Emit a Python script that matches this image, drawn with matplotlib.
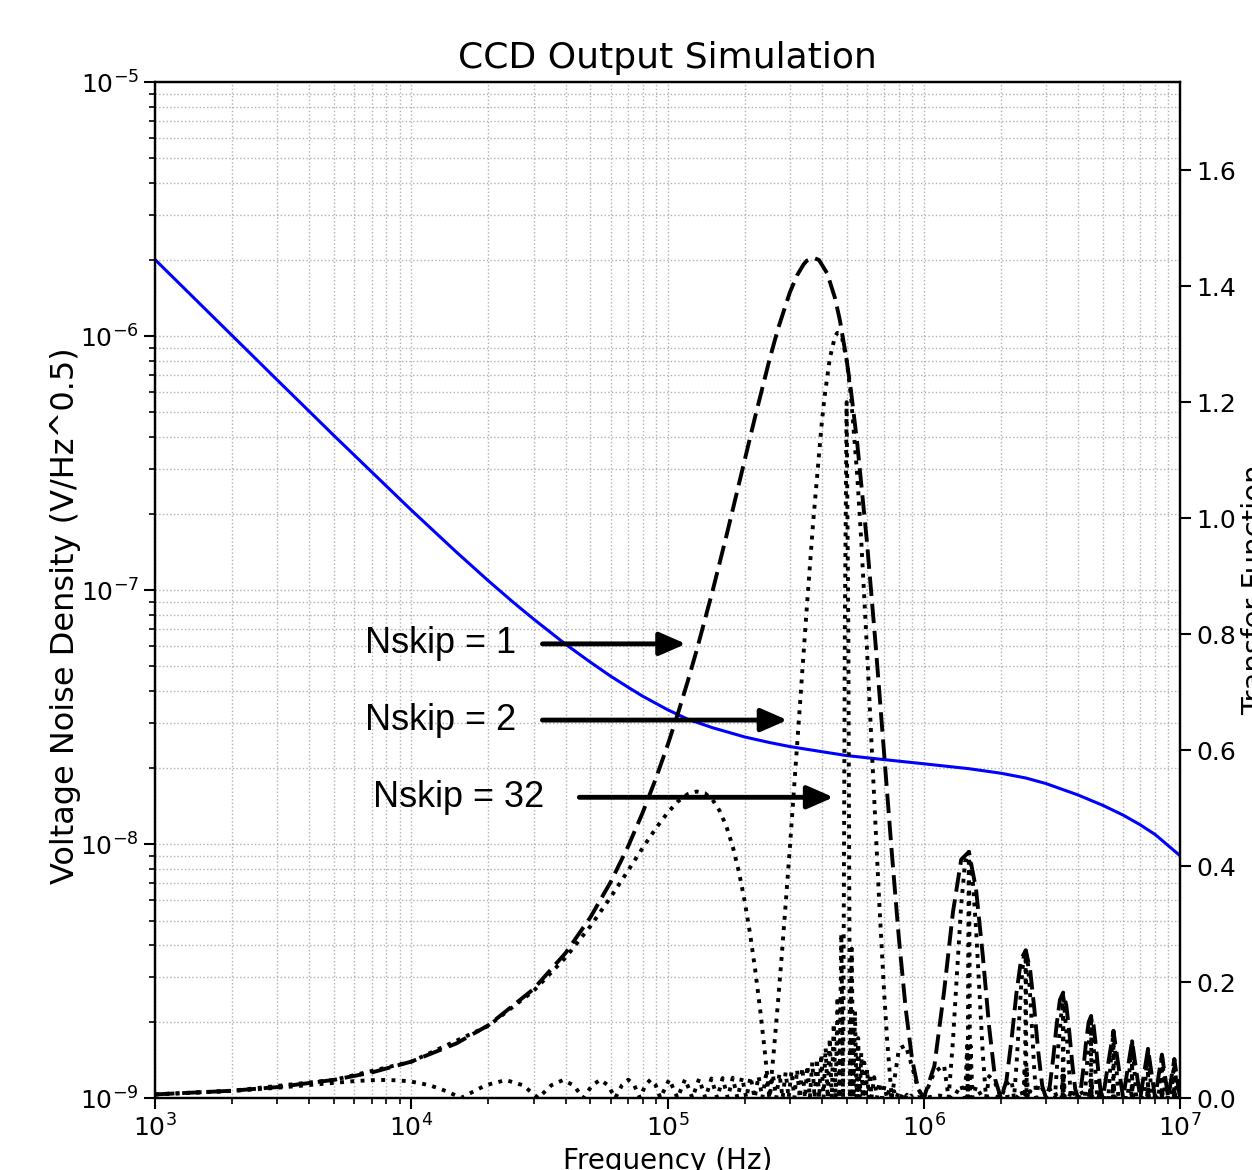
import matplotlib
matplotlib.use("Agg")
import matplotlib.pyplot as plt

# voltage noise density of the output amplifier (blue, left axis)
noise_freq = [1e3, 2e3, 3e3, 5e3, 7e3, 1e4, 1.5e4, 2e4, 2.5e4, 3e4, 4e4, 5e4,
              6e4, 7e4, 8e4, 1e5, 1.2e5, 1.5e5, 2e5, 2.5e5, 3e5, 4e5, 5e5, 7e5,
              1e6, 1.5e6, 2e6, 2.5e6, 3e6, 4e6, 5e6, 6e6, 7e6, 8e6, 1e7]
noise_density = [2.0e-6, 1.004e-6, 6.71e-7, 4.05e-7, 2.92e-7, 2.065e-7, 1.411e-7,
                 1.087e-7, 8.95e-8, 7.69e-8, 6.12e-8, 5.2e-8, 4.58e-8, 4.15e-8,
                 3.82e-8, 3.38e-8, 3.1e-8, 2.87e-8, 2.64e-8, 2.51e-8, 2.42e-8,
                 2.31e-8, 2.23e-8, 2.15e-8, 2.07e-8, 1.98e-8, 1.9e-8, 1.82e-8,
                 1.73e-8, 1.56e-8, 1.42e-8, 1.3e-8, 1.19e-8, 1.09e-8, 9.0e-9]

# transfer functions (right axis), frequency in MHz
nskip1_mhz = [0.001, 0.002, 0.003, 0.005, 0.007, 0.01, 0.015, 0.02, 0.03, 0.04,
              0.05, 0.06, 0.07, 0.08, 0.09, 0.1, 0.11, 0.12, 0.13, 0.15,
              0.17, 0.2, 0.22, 0.25, 0.27, 0.3, 0.32, 0.34, 0.35, 0.37,
              0.39, 0.42, 0.45, 0.47, 0.5, 0.52, 0.55, 0.6, 0.65, 0.7,
              0.75, 0.8, 0.85, 0.9, 0.95, 1.0,
              1.1, 1.2, 1.3, 1.4, 1.5, 1.6, 1.7, 1.8, 1.9, 2.0,
              2.1, 2.2, 2.3, 2.4, 2.5, 2.6, 2.7, 2.8, 2.9, 3.0,
              3.1, 3.2, 3.3, 3.4, 3.5, 3.6, 3.7, 3.8, 3.9, 4.0,
              4.1, 4.2, 4.3, 4.4, 4.5, 4.6, 4.7, 4.8, 4.9, 5.0,
              5.25, 5.5, 5.75, 6.0, 6.25, 6.5, 6.75, 7.0, 7.25, 7.5, 7.75, 8.0,
              8.25, 8.5, 8.75, 9.0, 9.25, 9.5, 9.75, 10.0]
nskip1_tf = [0.0063, 0.0126, 0.0189, 0.0314, 0.0440, 0.0628, 0.0942, 0.1255, 0.1879, 0.2500,
             0.3116, 0.3725, 0.4327, 0.4922, 0.5506, 0.6079, 0.6641, 0.7189, 0.7723, 0.8748,
             0.9704, 1.0998, 1.1757, 1.2732, 1.3267, 1.3889, 1.4183, 1.4378, 1.4440, 1.4493,
             1.4451, 1.4220, 1.3801, 1.3425, 1.2732, 1.2195, 1.1291, 0.9597, 0.7776, 0.5952,
             0.4244, 0.2750, 0.1544, 0.0676, 0.0164, 0.0,
             0.0553, 0.1833, 0.3205, 0.4113, 0.4244, 0.3599, 0.2451, 0.1222, 0.0320, 0.0,
             0.0290, 0.1000, 0.1812, 0.2399, 0.2546, 0.2215, 0.1543, 0.0786, 0.0210, 0.0,
             0.0196, 0.0687, 0.1263, 0.1694, 0.1819, 0.1599, 0.1126, 0.0579, 0.0156, 0.0,
             0.0148, 0.0524, 0.0969, 0.1309, 0.1415, 0.1252, 0.0886, 0.0458, 0.0124, 0.0,
             0.0606, 0.1157, 0.0554, 0.0, 0.0509, 0.0979, 0.0472, 0.0, 0.0439, 0.0849, 0.0411, 0.0,
             0.0386, 0.0749, 0.0364, 0.0, 0.0344, 0.0670, 0.0326, 0.0]

nskip2_mhz = [0.001, 0.002, 0.005, 0.01, 0.02, 0.03, 0.04, 0.05, 0.06, 0.07,
              0.08, 0.09, 0.1, 0.11, 0.12, 0.13, 0.14, 0.15, 0.16, 0.17,
              0.18, 0.19, 0.2, 0.21, 0.22, 0.23, 0.24, 0.25, 0.26, 0.27,
              0.28, 0.3, 0.32, 0.35, 0.37, 0.4, 0.41, 0.43, 0.45, 0.46,
              0.47, 0.48, 0.5, 0.52, 0.55, 0.57, 0.6, 0.62, 0.65, 0.67,
              0.7, 0.72, 0.75, 0.8, 0.85, 0.9, 0.95, 1.0,
              1.1, 1.2, 1.25, 1.3, 1.35, 1.4, 1.45, 1.5, 1.55, 1.6, 1.65, 1.7, 1.75, 1.8, 1.9, 2.0,
              2.1, 2.2, 2.25, 2.3, 2.35, 2.4, 2.45, 2.5, 2.55, 2.6, 2.65, 2.7, 2.75, 2.8, 2.9, 3.0,
              3.1, 3.25, 3.35, 3.5, 3.65, 3.75, 3.9, 4.0,
              4.1, 4.25, 4.35, 4.5, 4.65, 4.75, 4.9, 5.0,
              5.25, 5.35, 5.5, 5.65, 5.75, 6.0,
              6.25, 6.35, 6.5, 6.65, 6.75, 7.0,
              7.25, 7.35, 7.5, 7.65, 7.75, 8.0,
              8.25, 8.35, 8.5, 8.65, 8.75, 9.0,
              9.25, 9.35, 9.5, 9.65, 9.75, 10.0]
nskip2_tf = [0.0063, 0.0126, 0.0314, 0.0627, 0.1245, 0.1846, 0.2421, 0.2963, 0.3463, 0.3915,
             0.4313, 0.4649, 0.4918, 0.5117, 0.5241, 0.5286, 0.5255, 0.5142, 0.4948, 0.4675,
             0.4324, 0.3897, 0.3399, 0.2832, 0.2203, 0.1517, 0.0781, 0.0, 0.0817, 0.1662,
             0.2530, 0.4292, 0.6039, 0.8488, 0.9921, 1.1647, 1.2089, 1.2758, 1.3126, 1.3195,
             1.3189, 1.3107, 1.2732, 1.2099, 1.0739, 0.9625, 0.7764, 0.6471, 0.4571, 0.3392,
             0.1839, 0.0984, 0.0, 0.0850, 0.0908, 0.0547, 0.0156, 0.0,
             0.0447, 0.0566, 0.0, 0.0990, 0.2201, 0.3327, 0.4074, 0.4244, 0.3811, 0.2912, 0.1800, 0.0757, 0.0, 0.0378, 0.0259, 0.0,
             0.0235, 0.0309, 0.0, 0.0560, 0.1264, 0.1941, 0.2411, 0.2546, 0.2316, 0.1792, 0.1121, 0.0477, 0.0, 0.0243, 0.0170, 0.0,
             0.0159, 0.0, 0.0887, 0.1819, 0.0814, 0.0, 0.0126, 0.0,
             0.0120, 0.0, 0.0683, 0.1415, 0.0639, 0.0, 0.0100, 0.0,
             0.0, 0.0555, 0.1157, 0.0525, 0.0, 0.0,
             0.0, 0.0468, 0.0979, 0.0446, 0.0, 0.0,
             0.0, 0.0405, 0.0849, 0.0388, 0.0, 0.0,
             0.0, 0.0356, 0.0749, 0.0344, 0.0, 0.0,
             0.0, 0.0318, 0.0670, 0.0308, 0.0, 0.0]

nskip32_mhz = [0.001, 0.002, 0.003, 0.004, 0.005, 0.006, 0.007, 0.008, 0.009, 0.010,
               0.011, 0.012, 0.013, 0.014, 0.015, 0.0156,
               0.0195, 0.0234, 0.0273, 0.0313, 0.0352, 0.0391, 0.0430, 0.0469,
               0.0508, 0.0547, 0.0586, 0.0625, 0.0664, 0.0703, 0.0742, 0.0781,
               0.0820, 0.0859, 0.0898, 0.0938,
               0.1016, 0.1094, 0.1172, 0.1250, 0.1328, 0.1406, 0.1484, 0.1563,
               0.1641, 0.1719, 0.1797, 0.1875, 0.1953, 0.2031, 0.2109, 0.2188,
               0.2266, 0.2344, 0.2422, 0.2500, 0.2578, 0.2656, 0.2734, 0.2813,
               0.2891, 0.2969, 0.3047, 0.3125, 0.3203, 0.3281, 0.3359, 0.3438,
               0.3516, 0.3594, 0.3672, 0.3750, 0.3828, 0.3906, 0.3984, 0.4063,
               0.4141, 0.4219, 0.4297, 0.4375, 0.4453, 0.4531, 0.4609, 0.4688,
               0.4766, 0.4844,
               0.4922, 0.5, 0.5078, 0.5156,
               0.5234, 0.5313, 0.5391, 0.5469, 0.5547, 0.5625, 0.5703, 0.5781,
               0.5859, 0.5938, 0.6016, 0.6094, 0.6172, 0.6250, 0.6406, 0.6563,
               0.6719, 0.6875, 0.7031, 0.7188, 0.7344, 0.75, 0.7656, 0.7813,
               0.7969, 0.8125, 0.8281, 0.8438, 0.8594, 0.875, 0.8906, 0.9063,
               0.9219, 0.9375, 0.9531, 0.9688, 0.9844, 1.0,
               1.15, 1.3, 1.4, 1.45, 1.4766, 1.4844, 1.4922, 1.5, 1.5078, 1.5156, 1.5234, 1.55, 1.6, 1.7, 1.85, 2.0,
               2.15, 2.3, 2.4, 2.45, 2.4766, 2.4844, 2.5, 2.5156, 2.5234, 2.55, 2.6, 2.7, 2.85, 3.0,
               3.4, 3.45, 3.4766, 3.4844, 3.5, 3.5156, 3.5234, 3.55, 3.6, 4.0,
               4.4, 4.45, 4.4766, 4.4844, 4.5, 4.5156, 4.5234, 4.55, 4.6, 5.0,
               5.45, 5.4766, 5.4844, 5.5, 5.5156, 5.5234, 5.55, 6.0,
               6.45, 6.4766, 6.4844, 6.5, 6.5156, 6.5234, 6.55, 7.0,
               7.45, 7.4766, 7.4844, 7.5, 7.5156, 7.5234, 7.55, 8.0,
               8.45, 8.4766, 8.4844, 8.5, 8.5156, 8.5234, 8.55, 9.0,
               9.45, 9.4766, 9.4844, 9.5, 9.5156, 9.5234, 9.55, 10.0]
nskip32_tf = [0.0062, 0.0122, 0.0177, 0.0225, 0.0264, 0.0292, 0.0308, 0.0312, 0.0303, 0.0283,
              0.0250, 0.0208, 0.0157, 0.0100, 0.0039, 0.0,
              0.022, 0.031, 0.022, 0.0, 0.022, 0.031, 0.022, 0.0,
              0.022, 0.0315, 0.022, 0.0, 0.022, 0.0316, 0.022, 0.0,
              0.0225, 0.0318, 0.0225, 0.0,
              0.0323, 0.0, 0.0327, 0.0, 0.0332, 0.0, 0.0337, 0.0,
              0.0344, 0.0, 0.0351, 0.0, 0.0358, 0.0, 0.0368, 0.0,
              0.0378, 0.0, 0.0391, 0.0, 0.0405, 0.0, 0.0421, 0.0,
              0.0441, 0.0, 0.0463, 0.0, 0.0490, 0.0, 0.0523, 0.0,
              0.0563, 0.0, 0.0614, 0.0, 0.0680, 0.0, 0.0757, 0.0,
              0.0867, 0.0, 0.1031, 0.0, 0.1287, 0.0, 0.1748, 0.0,
              0.2835, 0.0,
              0.82, 1.20, 0.80, 0.0,
              0.2577, 0.0, 0.1495, 0.0, 0.1033, 0.0, 0.0776, 0.0,
              0.0612, 0.0, 0.0502, 0.0, 0.0419, 0.0, 0.036, 0.0,
              0.027, 0.0, 0.021, 0.0, 0.016, 0.0, 0.012, 0.0,
              0.0093, 0.0, 0.0075, 0.0, 0.0058, 0.0, 0.0043, 0.0,
              0.0030, 0.0, 0.0017, 0.0, 0.0008, 0.0,
              0.0044, 0.0, 0.022, 0.0, 0.090, 0.0, 0.270, 0.4244, 0.270, 0.0, 0.090, 0.0, 0.020, 0.0, 0.004, 0.0,
              0.0025, 0.0, 0.0128, 0.0, 0.054, 0.0, 0.2546, 0.0, 0.054, 0.0, 0.012, 0.0, 0.0024, 0.0,
              0.009, 0.0, 0.0386, 0.0, 0.1819, 0.0, 0.0386, 0.0, 0.0085, 0.0,
              0.007, 0.0, 0.030, 0.0, 0.1415, 0.0, 0.030, 0.0, 0.0067, 0.0,
              0.0, 0.0246, 0.0, 0.1157, 0.0, 0.0246, 0.0, 0.0,
              0.0, 0.0208, 0.0, 0.0979, 0.0, 0.0208, 0.0, 0.0,
              0.0, 0.018, 0.0, 0.0849, 0.0, 0.018, 0.0, 0.0,
              0.0, 0.0159, 0.0, 0.0749, 0.0, 0.0159, 0.0, 0.0,
              0.0, 0.0142, 0.0, 0.0670, 0.0, 0.0142, 0.0, 0.0]

labels = ["Nskip = 1", "Nskip = 2", "Nskip = 32"]
# text position and arrow extent, in axes fraction
label_xy = [(0.205, 0.447), (0.205, 0.372), (0.213, 0.296)]
arrow_x = [(0.378, 0.518), (0.378, 0.617), (0.414, 0.662)]


def mhz_to_hz(values):
    return [v * 1e6 for v in values]


fig = plt.figure(figsize=(12.52, 11.7), dpi=100)
ax = fig.add_axes([0.1238, 0.0615, 0.8187, 0.8684])

ax.loglog(noise_freq, noise_density, color="blue", lw=2.2)
ax.set_xlim(1e3, 1e7)
ax.set_ylim(1e-9, 1e-5)
ax.grid(True, which="both", linestyle=":", color="#b0b0b0", lw=1.0)
ax.set_xlabel("Frequency (Hz)", fontsize=20)
ax.set_ylabel("Voltage Noise Density (V/Hz^0.5)", fontsize=23)
ax.yaxis.set_label_coords(-0.072, 0.475)
ax.set_title("CCD Output Simulation", fontsize=26, pad=10)

ax2 = ax.twinx()
ax2.plot(mhz_to_hz(nskip1_mhz), nskip1_tf, color="black", lw=2.8,
         linestyle=(0, (5, 2)))
ax2.plot(mhz_to_hz(nskip2_mhz), nskip2_tf, color="black", lw=2.8, linestyle=":")
ax2.plot(mhz_to_hz(nskip32_mhz), nskip32_tf, color="black", lw=2.8, linestyle=":")
ax2.set_ylim(0, 1.752)
ax2.set_ylabel("Transfer Function", fontsize=21)

for a in (ax, ax2):
    for s in a.spines.values():
        s.set_linewidth(1.6)
    a.tick_params(which="major", labelsize=18, length=8, width=1.5)
    a.tick_params(which="minor", length=4.5, width=1.2)

for text, (tx, ty), (x0, x1) in zip(labels, label_xy, arrow_x):
    ax2.text(tx, ty, text, transform=ax2.transAxes, fontsize=26,
             family="Liberation Sans", ha="left", va="center")
    ax2.annotate("", xy=(x1, ty), xytext=(x0, ty), xycoords="axes fraction",
                 arrowprops=dict(arrowstyle="-|>,head_length=0.8,head_width=0.35",
                                 lw=3.5, color="black", mutation_scale=20,
                                 shrinkA=0, shrinkB=0))

fig.savefig("out.png", dpi=100)
